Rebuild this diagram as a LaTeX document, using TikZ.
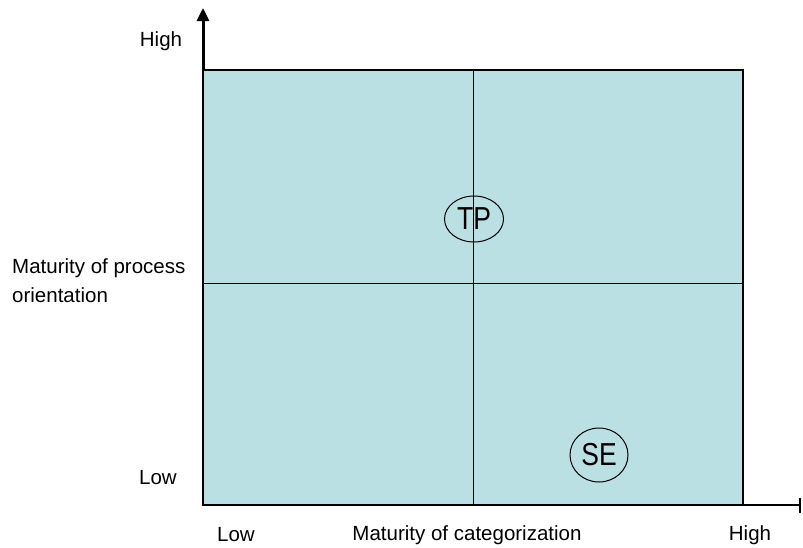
\documentclass[tikz,border=0pt]{standalone}
\usepackage{fontspec}
\setmainfont{Liberation Sans}
\usetikzlibrary{shapes.geometric,arrows.meta}
\definecolor{quad}{HTML}{BBE0E3}
\newcommand{\bubtxt}[1]{\scalebox{1}[1.2]{\fontsize{26.5}{28}\selectfont #1}}
\tikzset{
  lbl/.style={inner sep=0pt, font=\fontsize{20.5}{29}\selectfont},
  bubble/.style={draw, ellipse, inner sep=0pt, line width=1pt},
  axis/.style={line width=3pt},
}
\begin{document}
\begin{tikzpicture}[x=1pt,y=-1pt]
\useasboundingbox (0,0) rectangle (803,547);
\fill[quad] (203,70) rectangle (743,505);
\draw[line width=1pt] (473,70) -- (473,505);
\draw[line width=1pt] (203,283) -- (743,283);
\draw[line width=1.3pt] (203,70) rectangle (743,505);
\coordinate (o) at (203,505);
\coordinate (top) at (203,70);
\coordinate (ytip) at (203,8);
\coordinate (xtip) at (801,505);
\draw[axis,-{Triangle[length=13pt,width=12pt]}] (top) -- (ytip);
\draw[line width=2.5pt,-{Bar[width=15pt,line width=2pt]}] (o) -- (xtip);
\node[bubble, minimum width=59pt, minimum height=46pt] (tp) at (474,219) {\bubtxt{TP}};
\node[bubble, minimum width=58pt, minimum height=54pt] (se) at (599,455) {\bubtxt{SE}};
\node[lbl] (yhigh) at (161,41) {High};
\node[lbl, align=left, anchor=west] (ylab) at (12,281) {Maturity of process\\orientation};
\node[lbl] (ylow) at (158,478) {Low};
\node[lbl] (xlow) at (236,535) {Low};
\node[lbl] (xlab) at (467,535) {Maturity of categorization};
\node[lbl] (xhigh) at (750,535) {High};
\end{tikzpicture}
\end{document}
